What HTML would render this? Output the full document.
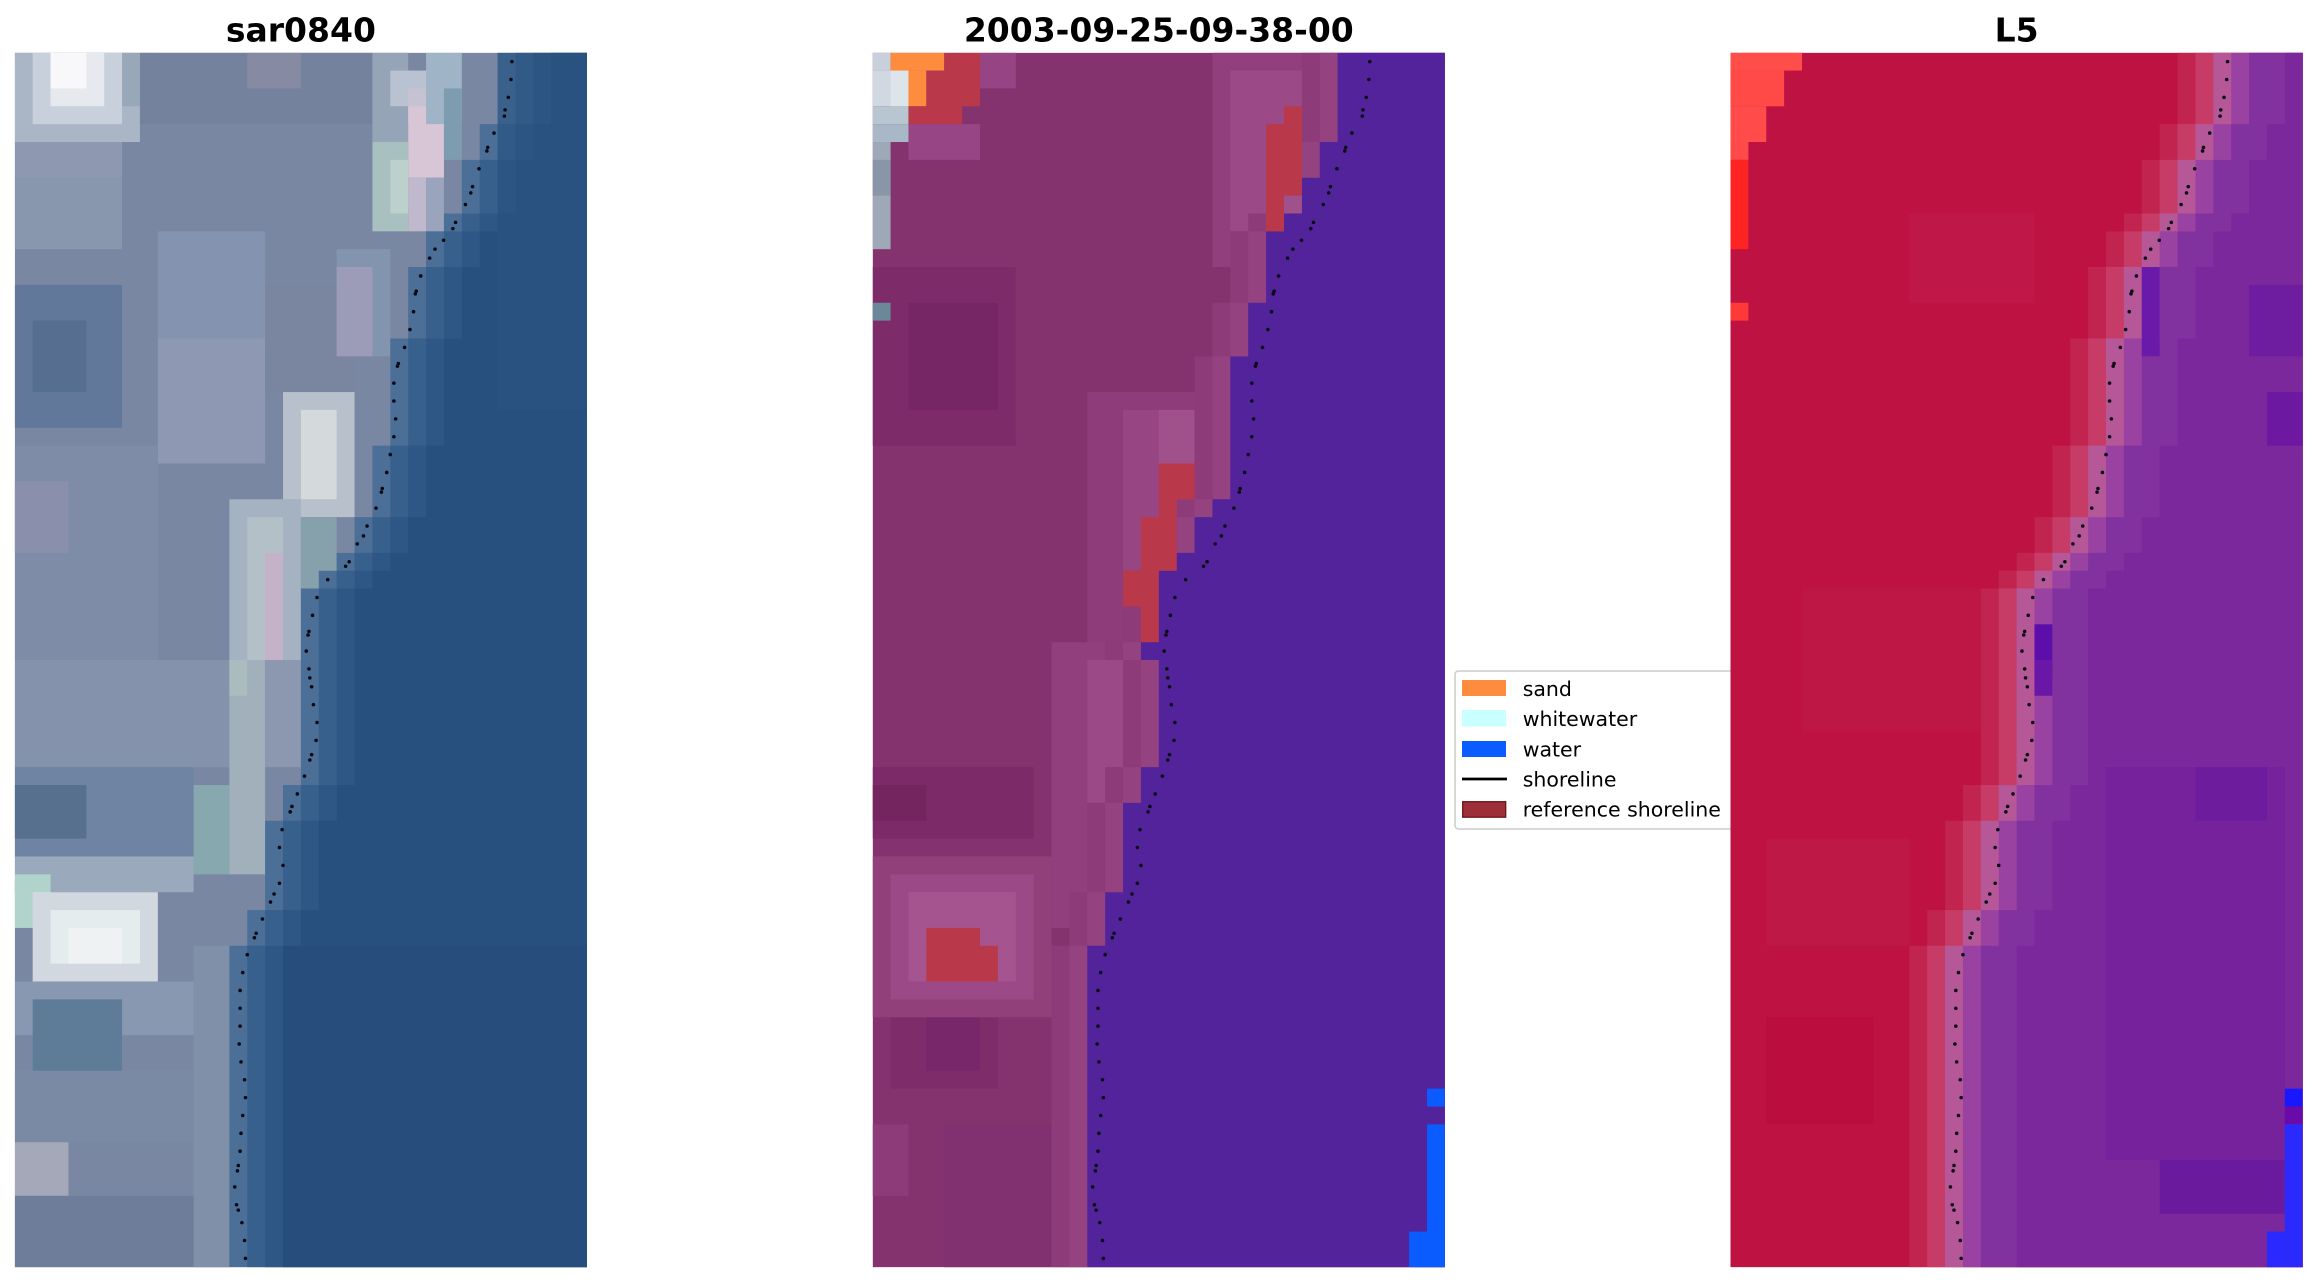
<!DOCTYPE html>
<html>
<head>
<meta charset="utf-8">
<style>
html,body{margin:0;padding:0;background:#fff;}
svg{display:block;}
</style>
</head>
<body>
<svg width="2317" height="1283" viewBox="0 0 2317 1283" xmlns="http://www.w3.org/2000/svg" xmlns:xlink="http://www.w3.org/1999/xlink">
<defs>
<path id="S" d="M27,0H40V68H12V50H13V48H14V43H15V41H16V30H17V29H18V28H19V26H20V22H21V16H22V12H23V10H24V9H25V6H26V4H27Z"/>
<path id="W" d="M26,0H40V68H12V50H13V47H14V42H15V40H16V34H15V33H16V29H17V28H18V26H19V25H20V17H21V14H22V10H23V9H24V7H25V5H26Z"/>
<g id="dots" fill="#0a0a14">
<circle cx="27.8" cy="0.5" r="0.1"/><circle cx="27.75" cy="1.5" r="0.1"/><circle cx="27.6" cy="2.5" r="0.1"/><circle cx="27.42" cy="3.2" r="0.1"/><circle cx="27.38" cy="3.55" r="0.1"/>
<circle cx="26.8" cy="4.5" r="0.1"/><circle cx="26.45" cy="5.3" r="0.1"/><circle cx="26.4" cy="5.5" r="0.1"/><circle cx="25.96" cy="6.5" r="0.1"/><circle cx="25.6" cy="7.5" r="0.1"/><circle cx="25.5" cy="7.85" r="0.1"/>
<circle cx="25.2" cy="8.5" r="0.1"/><circle cx="24.65" cy="9.5" r="0.1"/><circle cx="24.5" cy="9.85" r="0.1"/><circle cx="23.98" cy="10.5" r="0.1"/><circle cx="23.5" cy="11.0" r="0.1"/><circle cx="23.2" cy="11.5" r="0.1"/>
<circle cx="22.7" cy="12.5" r="0.1"/><circle cx="22.45" cy="13.35" r="0.1"/><circle cx="22.4" cy="13.5" r="0.1"/><circle cx="22.3" cy="14.5" r="0.1"/><circle cx="22.1" cy="15.5" r="0.1"/>
<circle cx="21.8" cy="16.5" r="0.1"/><circle cx="21.45" cy="17.4" r="0.1"/><circle cx="21.4" cy="17.55" r="0.1"/><circle cx="21.2" cy="18.5" r="0.1"/><circle cx="21.2" cy="19.5" r="0.1"/>
<circle cx="21.3" cy="20.5" r="0.1"/><circle cx="21.2" cy="21.5" r="0.1"/><circle cx="21.0" cy="22.5" r="0.1"/><circle cx="20.8" cy="23.5" r="0.1"/><circle cx="20.55" cy="24.4" r="0.1"/><circle cx="20.5" cy="24.6" r="0.1"/>
<circle cx="20.2" cy="25.5" r="0.1"/><circle cx="19.7" cy="26.5" r="0.1"/><circle cx="19.5" cy="27.05" r="0.1"/><circle cx="19.15" cy="27.5" r="0.1"/><circle cx="18.7" cy="28.5" r="0.1"/><circle cx="18.5" cy="28.75" r="0.1"/>
<circle cx="17.5" cy="29.5" r="0.1"/><circle cx="16.9" cy="30.5" r="0.1"/><circle cx="16.65" cy="31.5" r="0.1"/><circle cx="16.45" cy="32.4" r="0.1"/><circle cx="16.4" cy="32.6" r="0.1"/><circle cx="16.3" cy="33.5" r="0.1"/>
<circle cx="16.45" cy="34.5" r="0.1"/><circle cx="16.5" cy="35.0" r="0.1"/><circle cx="16.6" cy="35.5" r="0.1"/><circle cx="16.7" cy="36.5" r="0.1"/><circle cx="16.9" cy="37.5" r="0.1"/><circle cx="16.85" cy="38.5" r="0.1"/>
<circle cx="16.6" cy="39.3" r="0.1"/><circle cx="16.5" cy="39.6" r="0.1"/><circle cx="16.2" cy="40.5" r="0.1"/><circle cx="15.8" cy="41.5" r="0.1"/><circle cx="15.5" cy="42.2" r="0.1"/><circle cx="15.4" cy="42.5" r="0.1"/>
<circle cx="14.95" cy="43.5" r="0.1"/><circle cx="14.8" cy="44.5" r="0.1"/><circle cx="15.0" cy="45.5" r="0.1"/><circle cx="14.8" cy="46.5" r="0.1"/><circle cx="14.5" cy="47.1" r="0.1"/><circle cx="14.3" cy="47.55" r="0.1"/>
<circle cx="13.85" cy="48.5" r="0.1"/><circle cx="13.5" cy="49.3" r="0.1"/><circle cx="13.4" cy="49.55" r="0.1"/><circle cx="13.0" cy="50.5" r="0.1"/><circle cx="12.75" cy="51.5" r="0.1"/>
<circle cx="12.6" cy="52.5" r="0.1"/><circle cx="12.6" cy="53.5" r="0.1"/><circle cx="12.6" cy="54.5" r="0.1"/><circle cx="12.55" cy="55.5" r="0.1"/><circle cx="12.65" cy="56.5" r="0.1"/>
<circle cx="12.85" cy="57.5" r="0.1"/><circle cx="12.9" cy="58.5" r="0.1"/><circle cx="12.75" cy="59.5" r="0.1"/><circle cx="12.65" cy="60.5" r="0.1"/><circle cx="12.6" cy="61.5" r="0.1"/>
<circle cx="12.5" cy="62.3" r="0.1"/><circle cx="12.45" cy="62.6" r="0.1"/><circle cx="12.3" cy="63.5" r="0.1"/><circle cx="12.4" cy="64.5" r="0.1"/><circle cx="12.5" cy="64.8" r="0.1"/>
<circle cx="12.7" cy="65.5" r="0.1"/><circle cx="12.85" cy="66.5" r="0.1"/><circle cx="12.9" cy="67.5" r="0.1"/>
</g>
</defs>

<rect x="0" y="0" width="2317" height="1283" fill="#ffffff"/>

<!-- Titles -->
<text x="300.9" y="41.5" font-family="DejaVu Sans, Liberation Sans, sans-serif" font-weight="bold" font-size="33" text-anchor="middle" fill="#000">sar0840</text>
<text x="1158.8" y="41.5" font-family="DejaVu Sans, Liberation Sans, sans-serif" font-weight="bold" font-size="33" text-anchor="middle" fill="#000">2003-09-25-09-38-00</text>
<text x="2016.6" y="41.5" font-family="DejaVu Sans, Liberation Sans, sans-serif" font-weight="bold" font-size="33" text-anchor="middle" fill="#000">L5</text>

<!-- Panel 1: RGB -->
<svg x="14.8" y="52.7" width="572.2" height="1214.6" viewBox="0 0 32 68" preserveAspectRatio="none">
<rect x="0" y="0" width="32" height="68" fill="#7a87a3"/>
<rect x="0" y="0" width="7" height="5" fill="#aab6c6"/>
<rect x="1" y="0" width="5" height="4" fill="#c8d0dc"/>
<rect x="2" y="0" width="3" height="3" fill="#e6e9ee"/>
<rect x="2" y="0" width="2" height="2" fill="#f8f8fa"/>
<rect x="6" y="0" width="2" height="3" fill="#98a8b8"/>
<rect x="0" y="5" width="6" height="2" fill="#8e98b0"/>
<rect x="0" y="7" width="6" height="4" fill="#8896ae"/>
<rect x="7" y="0" width="13" height="4" fill="#74829e"/>
<rect x="13" y="0" width="3" height="2" fill="#868aa2"/>
<rect x="20" y="0" width="2" height="5" fill="#96a4b8"/>
<rect x="21" y="1" width="3" height="2" fill="#b8c2d0"/>
<rect x="22" y="2" width="2" height="2" fill="#c6c2d2"/>
<rect x="22" y="3" width="2" height="4" fill="#d8c6d6"/>
<rect x="20" y="5" width="2" height="5" fill="#a8c0c0"/>
<rect x="21" y="6" width="1" height="3" fill="#bcd0cc"/>
<rect x="22" y="7" width="1" height="3" fill="#c0b8cc"/>
<rect x="23" y="7" width="1" height="3" fill="#9aa4bc"/>
<rect x="23" y="0" width="2" height="4" fill="#9fb4c6"/>
<rect x="24" y="2" width="1" height="4" fill="#7e9cb0"/>
<rect x="8" y="10" width="6" height="6" fill="#8494b0"/>
<rect x="18" y="11" width="3" height="6" fill="#8294ae"/>
<rect x="0" y="13" width="6" height="8" fill="#61789a"/>
<rect x="1" y="15" width="3" height="4" fill="#566e90"/>
<rect x="8" y="16" width="6" height="7" fill="#8e98b2"/>
<rect x="14" y="13" width="5" height="6" fill="#7a86a0"/>
<rect x="18" y="12" width="2" height="5" fill="#9c9cb8"/>
<rect x="0" y="22" width="8" height="12" fill="#7e8ca8"/>
<rect x="0" y="24" width="3" height="4" fill="#8a90ac"/>
<rect x="15" y="19" width="4" height="7" fill="#b8c0cc"/>
<rect x="16" y="20" width="2" height="5" fill="#d4dadc"/>
<rect x="12" y="25" width="4" height="9" fill="#a4b2c2"/>
<rect x="13" y="26" width="2" height="8" fill="#b4c0c8"/>
<rect x="14" y="28" width="1" height="6" fill="#c4b2c8"/>
<rect x="16" y="26" width="2" height="5" fill="#86a0ac"/>
<rect x="0" y="34" width="12" height="6" fill="#8492ac"/>
<rect x="12" y="34" width="2" height="12" fill="#a2b0bc"/>
<rect x="12" y="34" width="1" height="2" fill="#aabcbe"/>
<rect x="14" y="34" width="2" height="6" fill="#8c98b0"/>
<rect x="0" y="40" width="10" height="5" fill="#6e84a2"/>
<rect x="0" y="41" width="4" height="3" fill="#56708e"/>
<rect x="10" y="41" width="2" height="5" fill="#88a8b0"/>
<rect x="0" y="45" width="10" height="2" fill="#9aaabc"/>
<rect x="0" y="46" width="2" height="3" fill="#b0d4cc"/>
<rect x="1" y="47" width="7" height="5" fill="#d2d8e0"/>
<rect x="2" y="48" width="5" height="3" fill="#e4ecee"/>
<rect x="3" y="49" width="3" height="2" fill="#eef2f2"/>
<rect x="0" y="52" width="10" height="3" fill="#8898b0"/>
<rect x="1" y="53" width="5" height="4" fill="#5e7c98"/>
<rect x="0" y="57" width="12" height="4" fill="#7a8aa4"/>
<rect x="0" y="61" width="3" height="3" fill="#a4a8b8"/>
<rect x="0" y="64" width="12" height="4" fill="#6e7e9a"/>
<rect x="10" y="50" width="2" height="18" fill="#8090a8"/>
<use href="#S" xlink:href="#S" x="0" fill="#4b6f96"/>
<use href="#S" xlink:href="#S" x="1" fill="#38608c"/>
<use href="#S" xlink:href="#S" x="2" fill="#2e5786"/>
<use href="#S" xlink:href="#S" x="3" fill="#28507f"/>
<rect x="27" y="0" width="5" height="20" fill="#2a5482" opacity="0.5"/>
<rect x="15" y="50" width="17" height="18" fill="#23497a" opacity="0.5"/>
<use href="#dots" xlink:href="#dots"/>
</svg>

<!-- Panel 2: classification -->
<svg x="872.7" y="52.7" width="572.2" height="1214.6" viewBox="0 0 32 68" preserveAspectRatio="none">
<rect x="0" y="0" width="32" height="68" fill="#85336f"/>
<rect x="0" y="12" width="8" height="10" fill="#7d2c69"/>
<rect x="2" y="14" width="5" height="6" fill="#772665"/>
<rect x="0" y="40" width="9" height="4" fill="#7c2b68"/>
<rect x="0" y="41" width="3" height="2" fill="#74245f"/>
<rect x="1" y="53" width="6" height="5" fill="#7e2d6a"/>
<rect x="3" y="54" width="3" height="3" fill="#78276a"/>
<rect x="4" y="60" width="8" height="8" fill="#813070"/>
<rect x="0" y="60" width="2" height="4" fill="#8e3c79"/>
<rect x="19" y="0" width="7" height="12" fill="#92407d"/>
<rect x="20" y="1" width="5" height="9" fill="#9c4a87"/>
<rect x="6" y="0" width="2" height="2" fill="#964483"/>
<rect x="2" y="4" width="4" height="2" fill="#974585"/>
<rect x="12" y="19" width="8" height="14" fill="#8f3c7a"/>
<rect x="14" y="20" width="5" height="10" fill="#984683"/>
<rect x="16" y="20" width="3" height="3" fill="#a0508a"/>
<rect x="10" y="33" width="6" height="16" fill="#913f7d"/>
<rect x="12" y="34" width="3" height="8" fill="#9c4a87"/>
<rect x="0" y="45" width="10" height="9" fill="#914079"/>
<rect x="1" y="46" width="8" height="7" fill="#9c4a87"/>
<rect x="2" y="47" width="6" height="5" fill="#a5548f"/>
<use href="#W" xlink:href="#W" x="-2" fill="#8e3b79"/>
<use href="#W" xlink:href="#W" x="-1" fill="#954280"/>
<use href="#W" xlink:href="#W" x="0" fill="#53239b"/>
<rect x="0" y="0" width="1" height="1" fill="#c8d0dc"/>
<rect x="0" y="1" width="2" height="2" fill="#d0d8e2"/>
<rect x="1" y="1" width="1" height="2" fill="#dde4ea"/>
<rect x="0" y="3" width="2" height="1" fill="#b8c6d2"/>
<rect x="0" y="4" width="2" height="1" fill="#a8b8c6"/>
<rect x="0" y="5" width="1" height="6" fill="#9ea8b6"/>
<rect x="0" y="6" width="1" height="2" fill="#8896a8"/>
<rect x="0" y="14" width="1" height="1" fill="#6a8898"/>
<rect x="1" y="0" width="3" height="1" fill="#fd8c3f"/>
<rect x="2" y="1" width="1" height="2" fill="#fd8c3f"/>
<rect x="4" y="0" width="2" height="1" fill="#b9394a"/>
<rect x="3" y="1" width="3" height="2" fill="#b9394a"/>
<rect x="2" y="3" width="3" height="1" fill="#b9394a"/>
<rect x="23" y="3" width="1" height="1" fill="#b9394a"/>
<rect x="22" y="4" width="2" height="4" fill="#b9394a"/>
<rect x="22" y="8" width="1" height="2" fill="#b9394a"/>
<rect x="23" y="8" width="1" height="1" fill="#a0508a"/>
<rect x="16" y="23" width="2" height="2" fill="#b9394a"/>
<rect x="16" y="25" width="1" height="1" fill="#b9394a"/>
<rect x="15" y="26" width="2" height="3" fill="#b9394a"/>
<rect x="14" y="29" width="2" height="2" fill="#b9394a"/>
<rect x="15" y="31" width="1" height="2" fill="#b9394a"/>
<rect x="3" y="49" width="3" height="1" fill="#b9394a"/>
<rect x="3" y="50" width="4" height="2" fill="#b9394a"/>
<rect x="31" y="58" width="1" height="1" fill="#0b5cff"/>
<rect x="31" y="60" width="1" height="8" fill="#0b5cff"/>
<rect x="30" y="66" width="1" height="2" fill="#0b5cff"/>
<use href="#dots" xlink:href="#dots"/>
</svg>

<!-- Legend (drawn before panel 3 so it is clipped by it) -->
<rect x="1455" y="671" width="320" height="158" rx="3.5" ry="3.5" fill="#ffffff" stroke="#cccccc" stroke-width="1.5"/>
<rect x="1462" y="680" width="44" height="16" fill="#fd8c3f"/>
<rect x="1462" y="710" width="44" height="16.5" fill="#c8ffff"/>
<rect x="1462" y="741" width="44" height="16" fill="#0b5cff"/>
<line x1="1462" y1="779" x2="1507" y2="779" stroke="#000" stroke-width="2.7"/>
<rect x="1462.7" y="801.7" width="43" height="15.5" fill="#9c2f37" stroke="#6e1419" stroke-width="1.3"/>
<g font-family="DejaVu Sans, Liberation Sans, sans-serif" font-size="20.5" fill="#000">
<text x="1522.7" y="696">sand</text>
<text x="1522.7" y="726">whitewater</text>
<text x="1522.7" y="756.5">water</text>
<text x="1522.7" y="786.5">shoreline</text>
<text x="1522.7" y="816.5">reference shoreline</text>
</g>

<!-- Panel 3: L5 -->
<svg x="1730.5" y="52.7" width="572.2" height="1214.6" viewBox="0 0 32 68" preserveAspectRatio="none">
<rect x="0" y="0" width="32" height="68" fill="#bd1242"/>
<rect x="10" y="9" width="7" height="5" fill="#bf1848"/>
<rect x="4" y="30" width="10" height="8" fill="#be1745"/>
<rect x="2" y="44" width="8" height="6" fill="#be1846"/>
<rect x="2" y="54" width="6" height="6" fill="#bb0e3e"/>
<use href="#S" xlink:href="#S" x="-2" fill="#c0244f"/>
<use href="#S" xlink:href="#S" x="-1" fill="#c63c66"/>
<use href="#S" xlink:href="#S" x="0" fill="#b65898"/>
<use href="#S" xlink:href="#S" x="1" fill="#9a42a2"/>
<use href="#S" xlink:href="#S" x="2" fill="#82329f"/>
<use href="#S" xlink:href="#S" x="4" fill="#7c289d"/>
<rect x="23" y="12" width="1" height="5" fill="#6a1aa8"/>
<rect x="29" y="13" width="3" height="4" fill="#6e1ca0"/>
<rect x="30" y="19" width="2" height="3" fill="#6c18a0"/>
<rect x="17" y="32" width="1" height="3" fill="#5c0eaa"/>
<rect x="17" y="34" width="1" height="2" fill="#6a16a6"/>
<rect x="21" y="40" width="10" height="22" fill="#76229c"/>
<rect x="24" y="62" width="7" height="3" fill="#6a1a9c"/>
<rect x="26" y="40" width="4" height="3" fill="#6e1c9e"/>
<rect x="0" y="0" width="4" height="1" fill="#ff4d4a"/>
<rect x="0" y="1" width="3" height="2" fill="#ff4a48"/>
<rect x="0" y="3" width="2" height="2" fill="#ff4c4a"/>
<rect x="0" y="5" width="1" height="1" fill="#ff4a4a"/>
<rect x="0" y="6" width="1" height="5" fill="#ff2424"/>
<rect x="0" y="14" width="1" height="1" fill="#ff3838"/>
<rect x="31" y="58" width="1" height="1" fill="#1818ff"/>
<rect x="31" y="59" width="1" height="1" fill="#6a0aa8"/>
<rect x="31" y="60" width="1" height="8" fill="#2a2aff"/>
<rect x="30" y="66" width="1" height="2" fill="#2a2aff"/>
<use href="#dots" xlink:href="#dots"/>
</svg>
</svg>
</body>
</html>
